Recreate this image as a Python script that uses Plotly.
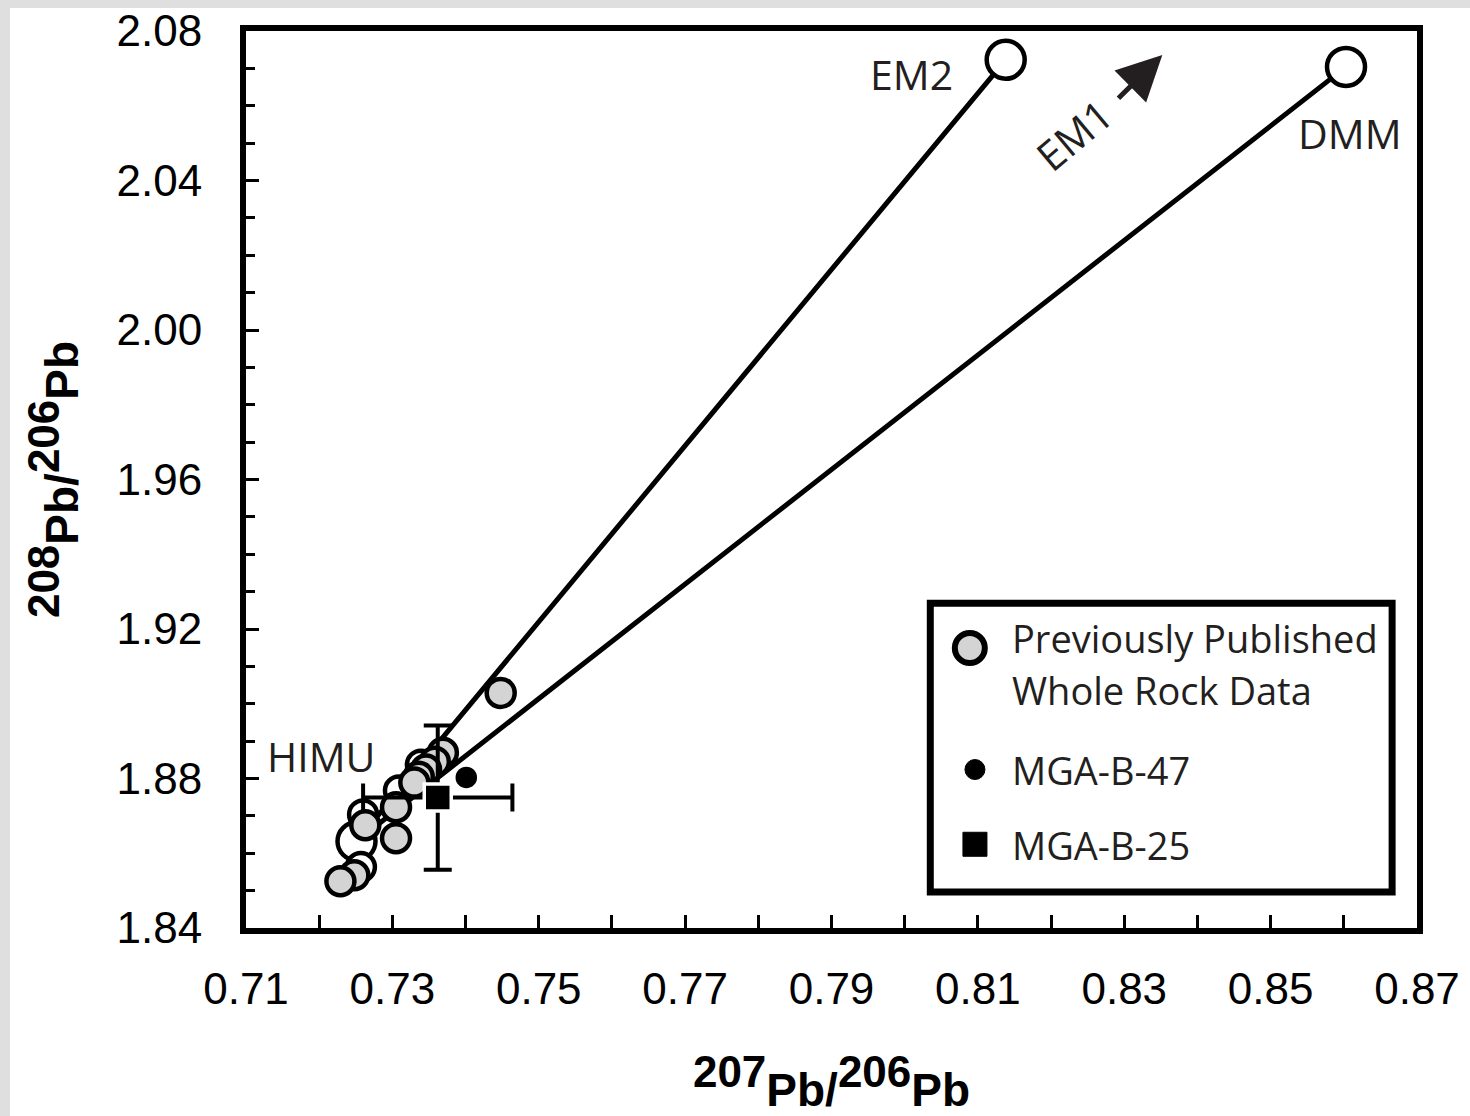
import plotly.graph_objects as go

# ---- data ----
# previously published whole-rock data (grey circles)
prev_x = [0.7448, 0.7369, 0.7358, 0.7346, 0.7336, 0.7330, 0.7305, 0.7263, 0.7305, 0.7248, 0.7229]
prev_y = [1.9029, 1.8869, 1.8845, 1.8824, 1.8805, 1.8789, 1.8723, 1.8675, 1.8640, 1.8541, 1.8525]

# open (white) circles hidden in the cluster
open_x = [0.7339, 0.7309, 0.7260, 0.7257]
open_y = [1.8837, 1.8768, 1.8704, 1.8563]

# mantle end-members
em_names = ["HIMU", "EM2", "DMM"]
em_x = [0.7251, 0.8138, 0.8603]
em_y = [1.8632, 2.0723, 2.0704]

# samples of this study
b47_x = [0.7401]
b47_y = [1.8803]
b25_x = [0.7362]
b25_y = [1.8749]
b25_ex = [0.0102]
b25_ey = [0.0193]

# axis ticks
x_ticks = [0.71, 0.73, 0.75, 0.77, 0.79, 0.81, 0.83, 0.85, 0.87]
y_ticks = [1.84, 1.88, 1.92, 1.96, 2.00, 2.04, 2.08]

TXT = "#231f20"
GREY = "#d4d4d4"
LBL_FONT = "Open Sans"
AX_FONT = "Liberation Sans, Arial, sans-serif"

W, H = 1470, 1116
ML, MR, MT, MB = 246, 53, 31, 188
PW, PH = W - ML - MR, H - MT - MB

fig = go.Figure()

# mixing lines EM2 - HIMU - DMM
line_order = [1, 0, 2]
fig.add_trace(go.Scatter(
    x=[em_x[i] for i in line_order], y=[em_y[i] for i in line_order],
    mode="lines", line=dict(color="black", width=5), hoverinfo="skip", showlegend=False))

# end-member circles
fig.add_trace(go.Scatter(
    x=em_x, y=em_y, mode="markers", text=em_names, name="End-members",
    marker=dict(symbol="circle", size=38, color="white", line=dict(color="black", width=4.5)),
    cliponaxis=False, showlegend=False))

# open circles
fig.add_trace(go.Scatter(
    x=open_x, y=open_y, mode="markers",
    marker=dict(symbol="circle", size=28, color="white", line=dict(color="black", width=4.5)),
    showlegend=False))

# previously published data
fig.add_trace(go.Scatter(
    x=prev_x, y=prev_y, mode="markers", name="Previously Published Whole Rock Data",
    marker=dict(symbol="circle", size=28, color=GREY, line=dict(color="black", width=4.5)),
    showlegend=False))

# MGA-B-47
fig.add_trace(go.Scatter(
    x=b47_x, y=b47_y, mode="markers", name="MGA-B-47",
    marker=dict(symbol="circle", size=24, color="black", line=dict(color="white", width=2.5)),
    showlegend=False))

# MGA-B-25 with error bars
fig.add_trace(go.Scatter(
    x=b25_x, y=b25_y, mode="markers", name="MGA-B-25",
    marker=dict(symbol="square", size=27, color="black", line=dict(color="white", width=3.5)),
    error_x=dict(type="data", array=b25_ex, color="black", thickness=4, width=14),
    error_y=dict(type="data", array=b25_ey, color="black", thickness=4, width=14),
    showlegend=False))

annos = []
# end-member labels
annos.append(dict(x=0.8009, y=2.0685, text="EM2", showarrow=False, xref="x", yref="y",
                  font=dict(family=LBL_FONT, size=41, color=TXT)))
annos.append(dict(x=0.8609, y=2.0528, text="DMM", showarrow=False, xref="x", yref="y",
                  font=dict(family=LBL_FONT, size=41, color=TXT)))
annos.append(dict(x=0.7203, y=1.8859, text="HIMU", showarrow=False, xref="x", yref="y",
                  font=dict(family=LBL_FONT, size=41, color=TXT)))
annos.append(dict(x=0.8230, y=2.0523, text="EM1", showarrow=False, xref="x", yref="y",
                  textangle=-40, font=dict(family=LBL_FONT, size=41, color=TXT)))
# EM1 arrow
annos.append(dict(x=0.8352, y=2.0736, ax=0.8290, ay=2.0616, xref="x", yref="y",
                  axref="x", ayref="y", text="", showarrow=True, arrowhead=2,
                  arrowsize=1.8, arrowwidth=5, arrowcolor=TXT))

# legend texts
leg_x = 0.8144
for ty, t in [(1.9176, "Previously Published"), (1.9037, "Whole Rock Data"),
              (1.8824, "MGA-B-47"), (1.8621, "MGA-B-25")]:
    annos.append(dict(x=leg_x, y=ty, text=t, showarrow=False, xref="x", yref="y",
                      xanchor="left", yanchor="middle",
                      font=dict(family=LBL_FONT, size=38, color=TXT)))

shapes = [
    # light grey frame around the white figure
    dict(type="rect", xref="paper", yref="paper", layer="below",
         x0=(10 - ML) / PW, x1=(W - ML) / PW,
         y0=-(MB + 5) / PH, y1=(PH + MT - 8) / PH,
         fillcolor="white", line=dict(width=0)),
    # legend box
    dict(type="rect", xref="x", yref="y", x0=0.8035, x1=0.8666, y0=1.8496, y1=1.9269,
         line=dict(color="black", width=7), fillcolor="rgba(0,0,0,0)"),
    # legend markers
    dict(type="circle", xref="x", yref="y", xsizemode="pixel", ysizemode="pixel",
         xanchor=0.8089, yanchor=1.9149, x0=-15, x1=15, y0=-15, y1=15,
         fillcolor=GREY, line=dict(color="black", width=6)),
    dict(type="circle", xref="x", yref="y", xsizemode="pixel", ysizemode="pixel",
         xanchor=0.8096, yanchor=1.8824, x0=-10, x1=10, y0=-10, y1=10,
         fillcolor="black", line=dict(color="black", width=1)),
    dict(type="rect", xref="x", yref="y", xsizemode="pixel", ysizemode="pixel",
         xanchor=0.8096, yanchor=1.8624, x0=-12, x1=12, y0=-12, y1=12,
         fillcolor="black", line=dict(color="black", width=1)),
]

sup = "<sup><span style='font-size:44px'>{}</span></sup>"
x_title = "<b>" + sup.format("207") + "Pb/" + sup.format("206") + "Pb</b>"
y_title = "<b>" + sup.format("208") + "Pb/" + sup.format("206") + "Pb</b>"

fig.update_layout(
    width=W, height=H,
    margin=dict(l=ML, r=MR, t=MT, b=MB, autoexpand=False),
    paper_bgcolor="#dfdfdf", plot_bgcolor="white",
    showlegend=False,
    annotations=annos, shapes=shapes,
    xaxis=dict(range=[0.71, 0.87], tickmode="array", tickvals=x_ticks,
               ticktext=["%.2f" % v for v in x_ticks],
               ticks="inside", ticklen=13, tickwidth=2.5, tickcolor="black",
               minor=dict(dtick=0.01, tick0=0.71, ticks="inside", ticklen=13,
                          tickwidth=2.5, tickcolor="black"),
               showline=True, linewidth=6, linecolor="black", mirror=True,
               showgrid=False, zeroline=False,
               ticklabelstandoff=17,
               tickfont=dict(family=AX_FONT, size=44, color="black"),
               title=dict(text=x_title, standoff=64,
                          font=dict(family=AX_FONT, size=46, color="black"))),
    yaxis=dict(range=[1.84, 2.08], tickmode="array", tickvals=y_ticks,
               ticktext=["%.2f" % v for v in y_ticks],
               ticks="inside", ticklen=13, tickwidth=2.5, tickcolor="black",
               minor=dict(dtick=0.01, tick0=1.84, ticks="inside", ticklen=9,
                          tickwidth=2.5, tickcolor="black"),
               showline=True, linewidth=6, linecolor="black", mirror=True,
               showgrid=False, zeroline=False,
               ticklabelstandoff=29,
               tickfont=dict(family=AX_FONT, size=44, color="black"),
               title=dict(text=y_title, standoff=25,
                          font=dict(family=AX_FONT, size=46, color="black"))),
)

fig.write_html("out.html", config={"displayModeBar": False},
               post_script="document.body.style.margin='0';document.body.style.overflow='hidden';")
